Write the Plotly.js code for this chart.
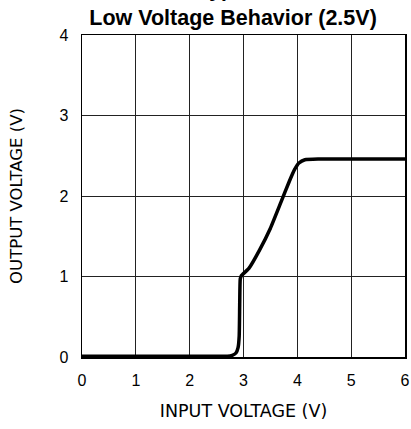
<!DOCTYPE html>
<html>
<head>
<meta charset="utf-8">
<script src="https://cdn.plot.ly/plotly-3.0.1.min.js"></script>
<style>html,body{margin:0;padding:0;background:#fff;}#chart{width:411px;height:429px;}</style>
</head>
<body>
<div id="chart"></div>
<script>
var inputVoltage = [0, 0.5, 1, 1.5, 2, 2.5, 2.7, 2.79, 2.86, 2.9, 2.92, 2.93, 2.94, 2.96, 3.1, 3.3, 3.5, 3.7, 3.85, 3.95, 4.03, 4.14, 4.4, 5, 5.5, 6];
var outputVoltage = [0.01, 0.01, 0.01, 0.01, 0.01, 0.01, 0.01, 0.02, 0.05, 0.12, 0.26, 0.68, 0.97, 1.01, 1.1, 1.33, 1.6, 1.93, 2.18, 2.33, 2.41, 2.45, 2.46, 2.46, 2.46, 2.46];
var xTicks = [0, 1, 2, 3, 4, 5, 6];
var yTicks = [0, 1, 2, 3, 4];

var labelFont = "'DejaVu Sans', sans-serif";
var tickFamily = "'Liberation Sans', Arial, sans-serif";

var trace = {
  x: inputVoltage,
  y: outputVoltage,
  mode: 'lines',
  line: {color: '#000', width: 3.5, shape: 'spline', smoothing: 0.5},
  hoverinfo: 'skip'
};

var layout = {
  width: 411, height: 429,
  margin: {l: 82, r: 6, t: 35, b: 72},
  paper_bgcolor: '#fff', plot_bgcolor: '#fff',
  showlegend: false,
  title: {
    text: 'Low Voltage Behavior (2.5V)',
    font: {family: "'Liberation Sans', Arial, sans-serif", size: 21.5, color: '#000', weight: 'bold'},
    x: 0.567, xanchor: 'center', xref: 'container',
    y: 0.96, yanchor: 'middle', yref: 'container'
  },
  annotations: [{
    text: '<b>Typical</b>',
    xref: 'paper', yref: 'paper',
    x: 0.47, y: 1.1, xanchor: 'center', yanchor: 'bottom',
    showarrow: false,
    font: {family: "'Liberation Sans', Arial, sans-serif", size: 21, color: '#000'}
  }],
  xaxis: {
    range: [0, 6], tickvals: xTicks, ticktext: xTicks.map(String),
    showgrid: true, gridcolor: '#222', gridwidth: 1,
    zeroline: false, showline: true, linecolor: '#000', linewidth: 1.5, mirror: true,
    ticks: '', ticklabelstandoff: 8,
    tickfont: {family: tickFamily, size: 16, color: '#000'},
    title: {text: 'INPUT VOLTAGE (V)', font: {family: labelFont, size: 17.5, color: '#000'}, standoff: 17},
    fixedrange: true
  },
  yaxis: {
    range: [0, 4], tickvals: yTicks, ticktext: yTicks.map(String),
    showgrid: true, gridcolor: '#222', gridwidth: 1,
    zeroline: false, showline: true, linecolor: '#000', linewidth: 1.5, mirror: true,
    ticks: '', ticklabelstandoff: 9,
    tickfont: {family: tickFamily, size: 16, color: '#000'},
    title: {text: 'OUTPUT VOLTAGE (V)', font: {family: labelFont, size: 16.5, color: '#000'}, standoff: 32},
    fixedrange: true
  }
};

Plotly.newPlot('chart', [trace], layout, {displayModeBar: false, staticPlot: true});
</script>
</body>
</html>
